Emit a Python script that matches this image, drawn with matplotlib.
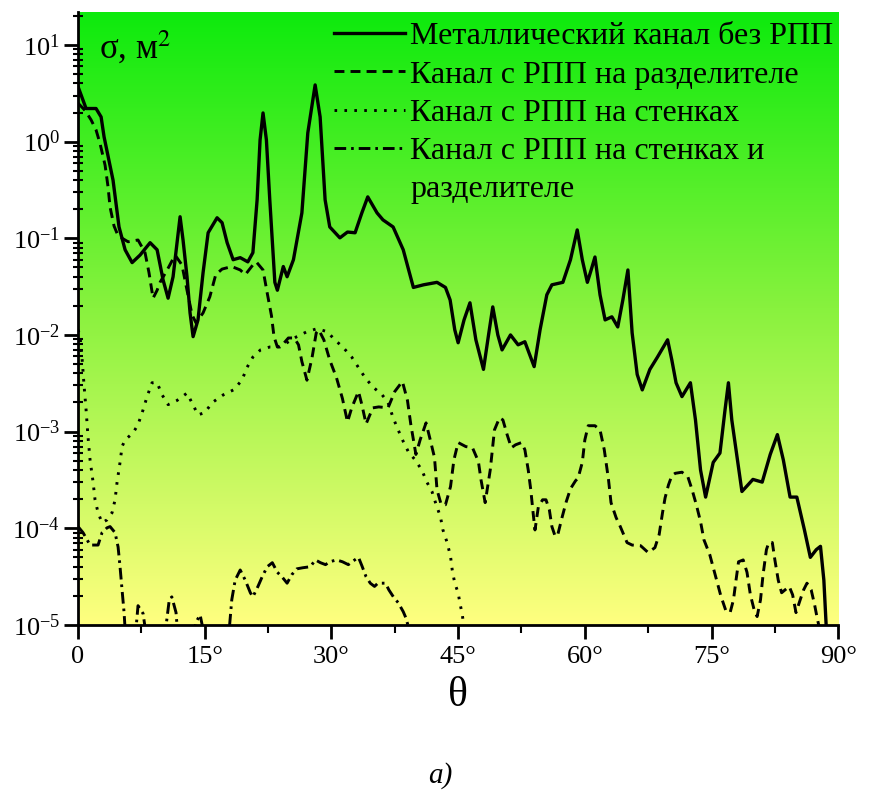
import numpy as np
import matplotlib
matplotlib.use("Agg")
import matplotlib.pyplot as plt
from matplotlib.colors import LinearSegmentedColormap
from matplotlib.lines import Line2D
from matplotlib.ticker import LogLocator, FixedLocator, NullFormatter

plt.rcParams['font.family'] = ['Liberation Serif', 'DejaVu Serif']
plt.rcParams['mathtext.fontset'] = 'stix'

# metallic channel without RAM (solid)
sol_deg = [0, 0.95, 2.13, 2.73, 3.08, 4.14, 4.85, 5.57, 6.4, 7.34, 8.53, 9.36, 10.07,
           10.66, 11.25, 11.72, 12.08, 12.43, 12.9, 13.26, 13.62, 14.2, 14.8, 15.4,
           16.46, 17.05, 17.65, 18.36, 19.2, 20.1, 20.7, 21.2, 21.55, 21.9, 22.3,
           22.7, 23.3, 23.6, 24.3, 24.75, 25.5, 26.5, 27.2, 28.07, 28.66, 29.25,
           29.8, 31.0, 31.9, 32.8, 33.6, 34.3, 35.4, 36.1, 37.3, 38.5, 39.7, 40.9,
           42.5, 43.5, 44.05, 44.6, 45.0, 45.7, 46.4, 47.1, 48.0, 48.6, 49.1, 49.7,
           50.2, 51.2, 52.1, 52.9, 54.0, 54.7, 55.5, 56.1, 57.4, 58.3, 59.1, 59.7,
           60.3, 60.75, 61.2, 61.8, 62.4, 63.2, 63.9, 64.5, 65.1, 65.6, 66.2, 66.8,
           67.7, 68.6, 69.8, 70.3, 70.8, 71.5, 72.5, 73.1, 73.7, 74.3, 75.2, 76.0,
           76.6, 77.0, 77.4, 78.6, 79.3, 79.9, 81.0, 81.95, 82.8, 83.5, 84.3, 85.1,
           86.0, 86.7, 87.4, 87.9, 88.3, 88.7]
sol_val = [3.7, 2.2, 2.2, 1.8, 1.12, 0.40, 0.131, 0.076, 0.056, 0.067, 0.090, 0.076, 0.037,
           0.024, 0.040, 0.090, 0.167, 0.096, 0.040, 0.0169, 0.0096, 0.0143, 0.044, 0.114,
           0.163, 0.145, 0.090, 0.060, 0.063, 0.057, 0.071, 0.25, 1.04, 1.98, 1.04,
           0.25, 0.035, 0.029, 0.051, 0.040, 0.060, 0.183, 1.23, 3.86, 1.80, 0.25,
           0.131, 0.101, 0.116, 0.114, 0.183, 0.268, 0.183, 0.155, 0.131, 0.076, 0.031, 0.033,
           0.035, 0.031, 0.023, 0.0113, 0.0083, 0.0143, 0.0215, 0.0089, 0.0044, 0.010, 0.0195, 0.010,
           0.0070, 0.010, 0.0079, 0.0085, 0.0047, 0.0113, 0.026, 0.033, 0.035, 0.060, 0.122, 0.060,
           0.035, 0.047, 0.064, 0.026, 0.0143, 0.0154, 0.0121, 0.023, 0.047, 0.0105, 0.0039, 0.0027,
           0.0044, 0.0059, 0.0089, 0.0055, 0.0032, 0.0023, 0.0032, 0.00132, 0.00040, 0.00021, 0.00048, 0.00060,
           0.00168, 0.0032, 0.00132, 0.00024, 0.00028, 0.00032, 0.00030, 0.00058, 0.00093, 0.00051, 0.00021, 0.00021,
           9.6e-5, 5.0e-5, 6.0e-5, 6.5e-5, 2.9e-5, 6e-6]

# RAM on the divider (dashed)
sep_deg = [0, 0.83, 1.54, 2.13, 2.61, 3.2, 3.55, 3.79, 4.26, 4.74, 5.92, 7.1, 7.93, 8.4,
           8.88, 9.36, 9.71, 10.66, 11.49, 12.3, 12.9, 13.5, 13.97, 14.8, 15.6, 16.3,
           17.05, 18.2, 19.2, 19.8, 20.7, 21.1, 21.9, 22.4, 22.9, 23.2, 23.6, 24.2, 24.9,
           25.6, 26.1, 26.5, 27.1, 27.7, 28.2, 28.5, 29.1, 29.8, 30.6, 31.3, 31.9, 32.4,
           33.2, 33.6, 34.1, 34.9, 35.6, 36.7, 37.5, 38.4, 39.0, 39.4, 40.0, 40.5, 41.2,
           41.7, 42.2, 42.5, 43.0, 43.5, 44.1, 44.5, 45.0, 45.9, 46.7, 47.4, 47.7, 48.2,
           48.8, 49.3, 49.9, 50.3, 50.8, 51.3, 51.8, 52.5, 52.9, 53.3, 53.6, 53.9, 54.1,
           54.5, 55.0, 55.4, 55.8, 56.1, 56.5, 56.8, 57.3, 57.8, 58.3, 58.9, 59.2, 59.7,
           60.0, 60.4, 61.2, 61.8, 62.3, 62.8, 63.1, 63.7, 64.2, 65.0, 65.6, 66.6, 67.5,
           68.3, 68.8, 69.2, 69.5, 69.9, 70.3, 70.7, 71.5, 72.2, 72.7, 73.2, 73.7, 74.1,
           74.8, 75.6, 76.1, 76.7, 77.2, 77.6, 77.9, 78.2, 78.75, 79.2, 79.6, 80.1, 80.4,
           80.8, 81.1, 81.5, 81.8, 82.2, 82.5, 82.9, 83.3, 83.7, 84.2, 84.6, 85.0, 85.5,
           85.9, 86.3, 86.8, 87.2, 87.5, 87.8]
sep_val = [2.5, 2.1, 1.68, 1.32, 0.95, 0.57, 0.34, 0.21, 0.134, 0.106, 0.092, 0.096, 0.071, 0.044,
           0.024, 0.029, 0.035, 0.049, 0.067, 0.053, 0.029, 0.0161, 0.0133, 0.0169, 0.0248, 0.042,
           0.048, 0.051, 0.047, 0.042, 0.053, 0.057, 0.047, 0.027, 0.0158, 0.0096, 0.0075, 0.0079, 0.0093,
           0.0093, 0.0079, 0.0053, 0.0034, 0.0058, 0.0105, 0.0113, 0.0089, 0.0055, 0.0036, 0.0022, 0.00126, 0.00176,
           0.0026, 0.0019, 0.0012, 0.00176, 0.0018, 0.00176, 0.0026, 0.0033, 0.0021, 0.00118, 0.00058, 0.00082, 0.00123,
           0.00082, 0.00054, 0.00025, 0.000175, 0.000175, 0.00027, 0.00051, 0.00077, 0.00070, 0.00068, 0.00049, 0.00032, 0.000184,
           0.00040, 0.00104, 0.00139, 0.00132, 0.00093, 0.00068, 0.00073, 0.00077, 0.00065, 0.00040, 0.00025, 0.000138, 9.6e-5,
           0.000167, 0.000197, 0.000197, 0.000155, 0.000104, 8.2e-5, 8.6e-5, 0.000129, 0.000188, 0.000256, 0.00031, 0.00033, 0.00048,
           0.00082, 0.00115, 0.00115, 0.00104, 0.00065, 0.00032, 0.000184, 0.000129, 0.000104, 7.1e-5, 6.7e-5, 6.6e-5, 5.6e-5,
           6.3e-5, 8.6e-5, 0.000145, 0.000206, 0.00028, 0.00035, 0.00037, 0.00038, 0.00034, 0.00025, 0.000175, 0.000117, 7.6e-5,
           5.3e-5, 2.9e-5, 2.0e-5, 1.4e-5, 1.34e-5, 1.82e-5, 2.9e-5, 4.5e-5, 4.7e-5, 3.5e-5, 2.05e-5, 1.37e-5, 1.22e-5,
           1.82e-5, 3.3e-5, 6.0e-5, 7.2e-5, 7.1e-5, 4.7e-5, 2.9e-5, 2.15e-5, 2.3e-5, 2.5e-5, 2.05e-5, 1.34e-5, 1.82e-5,
           2.3e-5, 2.7e-5, 2.3e-5, 1.62e-5, 1.19e-5, 9e-6]

# RAM on the walls (dotted)
wal_deg = [0, 0.24, 0.47, 0.71, 0.95, 1.18, 1.42, 1.78, 2.01, 2.37, 2.84, 3.43, 4.03, 4.38,
           4.62, 4.97, 5.21, 5.57, 6.51, 7.1, 7.7, 8.17, 8.76, 9.36, 9.95, 10.66, 11.72,
           12.9, 13.6, 14.2, 15.0, 15.9, 17.2, 18.4, 19.4, 20.0, 20.7, 21.6, 22.7, 23.9,
           25.9, 27.1, 28.3, 29.5, 30.4, 31.4, 32.4, 33.2, 34.0, 34.9, 36.0, 36.7, 37.3,
           37.9, 38.5, 39.1, 39.9, 40.7, 41.3, 41.9, 42.4, 42.9, 43.2, 43.7, 44.1, 44.3,
           44.6, 45.0, 45.2, 45.5, 45.7]
wal_val = [0.0113, 0.0096, 0.0058, 0.0030, 0.00168, 0.00088, 0.00051, 0.00030, 0.000197, 0.000145, 0.000114, 0.000122, 0.000145, 0.000197,
           0.00030, 0.00048, 0.00070, 0.00082, 0.00097, 0.00118, 0.00168, 0.0023, 0.0032, 0.0032, 0.0024, 0.0019, 0.0021,
           0.0025, 0.0019, 0.00149, 0.00157, 0.0020, 0.0024, 0.0027, 0.0034, 0.0046, 0.0059, 0.0070, 0.0075, 0.0075,
           0.0096, 0.0108, 0.0116, 0.0108, 0.0089, 0.0074, 0.0059, 0.0046, 0.0036, 0.0029, 0.0024, 0.0020, 0.00139,
           0.00104, 0.00079, 0.00062, 0.00051, 0.00040, 0.00030, 0.00024, 0.000175, 0.000132, 9.6e-5, 7.1e-5, 5.1e-5, 3.7e-5,
           2.7e-5, 2.15e-5, 1.7e-5, 1.27e-5, 9e-6]

# RAM on the walls and divider (dash-dot)
all_deg = [0, 0.59, 1.07, 1.42, 2.37, 2.84, 3.43, 3.79, 4.38, 4.74, 4.97, 5.21, 5.45, 5.57,
           6.2, 6.9, 7.1, 7.7, 8.05, 9.1, 10.4, 10.8, 11.1, 11.6, 11.8, 12.9, 14.0, 14.45,
           14.8, 16.2, 17.9, 18.2, 18.6, 19.2, 19.8, 20.4, 20.7, 21.3, 21.8, 22.4, 23.0,
           23.6, 24.2, 24.75, 25.3, 25.9, 26.6, 27.5, 28.1, 28.7, 29.3, 29.8, 30.6, 31.3,
           32.0, 32.6, 33.2, 33.6, 34.1, 34.6, 35.1, 35.5, 36.4, 36.8, 37.4, 37.9, 38.5,
           38.8, 39.2]
all_val = [0.000104, 9.0e-5, 7.6e-5, 6.7e-5, 6.7e-5, 9.0e-5, 0.000101, 0.000104, 9.0e-5, 6.4e-5, 4.0e-5, 2.3e-5, 1.34e-5, 9e-6,
           4e-6, 1.0e-5, 1.58e-5, 1.31e-5, 8e-6, 4e-6, 9.5e-6, 1.82e-5, 1.95e-5, 1.34e-5, 8e-6, 5e-6, 1.08e-5, 1.27e-5,
           9e-6, 5e-6, 9e-6, 1.82e-5, 2.9e-5, 3.7e-5, 2.9e-5, 2.15e-5, 1.95e-5, 2.5e-5, 3.15e-5, 4.0e-5, 4.4e-5,
           3.5e-5, 3.1e-5, 2.7e-5, 3.3e-5, 3.8e-5, 3.9e-5, 4.0e-5, 4.7e-5, 4.4e-5, 4.2e-5, 4.5e-5, 4.7e-5, 4.5e-5,
           4.2e-5, 4.6e-5, 5.0e-5, 4.1e-5, 3.15e-5, 2.7e-5, 2.5e-5, 2.7e-5, 2.7e-5, 2.3e-5, 1.91e-5, 1.7e-5, 1.37e-5,
           1.19e-5, 9e-6]

labels = ['Металлический канал без РПП',
          'Канал с РПП на разделителе',
          'Канал с РПП на стенках',
          'Канал с РПП на стенках и',
          'разделителе']
xticks = [0, 15, 30, 45, 60, 75, 90]
xticklabels = ['0', '15°', '30°', '45°', '60°', '75°', '90°']

fig = plt.figure(figsize=(8.87, 7.91), dpi=100)
ax = fig.add_axes([0.088, 0.21, 0.857, 0.775])

# green -> yellow background
cmap = LinearSegmentedColormap.from_list('bg', [(1.0, 1.0, 0.5), (0.55, 0.95, 0.25), (0.05, 0.92, 0.05)])
grad = np.linspace(0, 1, 256).reshape(-1, 1)
ax.imshow(grad, cmap=cmap, aspect='auto', origin='lower', extent=[0, 1, 0, 1],
          transform=ax.transAxes, zorder=0)

l1, = ax.plot(sol_deg, sol_val, color='black', lw=2.4, zorder=3)
l2, = ax.plot(sep_deg, sep_val, color='black', lw=2.1, dashes=(3.4, 2.1), zorder=3)
l3, = ax.plot(wal_deg, wal_val, color='black', lw=2.1, dashes=(0.9, 2.5), zorder=3)
l4, = ax.plot(all_deg, all_val, color='black', lw=2.1, dashes=(4.0, 1.7, 0.9, 1.7), zorder=3)

ax.set_yscale('log')
ax.set_xlim(0, 90)
ax.set_ylim(1e-5, 22)
ax.yaxis.set_major_locator(LogLocator(base=10, numticks=20))
ax.yaxis.set_minor_locator(LogLocator(base=10, subs=np.arange(2, 10), numticks=20))
ax.yaxis.set_minor_formatter(NullFormatter())
ax.set_xticks(xticks)
ax.set_xticklabels(xticklabels)
ax.xaxis.set_minor_locator(FixedLocator([7.5, 22.5, 37.5, 52.5, 67.5, 82.5]))

for s in ['top', 'right']:
    ax.spines[s].set_visible(False)
for s in ['left', 'bottom']:
    ax.spines[s].set_linewidth(2.0)
ax.tick_params(axis='both', which='major', direction='out', length=10, width=2, labelsize=19)
ax.tick_params(axis='y', which='minor', direction='inout', length=7, width=1.5)
ax.tick_params(axis='x', which='minor', direction='out', length=6, width=1.5)
ax.tick_params(axis='x', pad=5)
ax.tick_params(axis='y', pad=3)

ax.set_xlabel('θ', fontsize=30, labelpad=6)
ax.text(0.028, 0.972, 'σ, м$^2$', transform=ax.transAxes, fontsize=25, va='top', ha='left', zorder=5)

blank = Line2D([], [], color='none')
ax.legend([l1, l2, l3, l4, blank], labels, loc='upper right', bbox_to_anchor=(1.019, 1.015),
          frameon=False, fontsize=23, handlelength=2.25, handletextpad=0.15, labelspacing=0.28,
          borderaxespad=0.2)

fig.text(0.496, 0.003, 'a)', fontsize=21, style='italic', ha='center', va='bottom')

fig.savefig('out.png', dpi=100)
